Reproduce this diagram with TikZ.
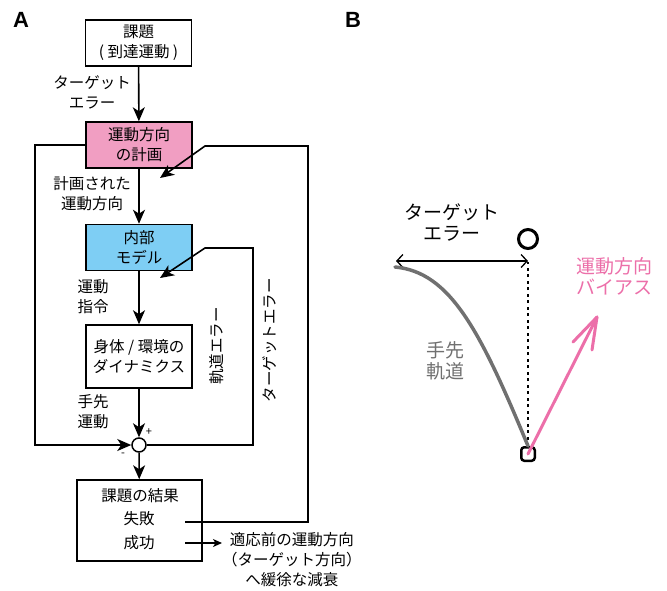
\documentclass[tikz,border=0pt]{standalone}
\usepackage{fontspec}
\setmainfont{Noto Sans CJK JP}
\newfontfamily\labfont{Liberation Sans}
\usetikzlibrary{arrows.meta,calc}
\definecolor{boxpink}{HTML}{F19EC2}
\definecolor{boxblue}{HTML}{7ECEF4}
\definecolor{biaspink}{HTML}{EC6FA9}
\definecolor{trajgray}{HTML}{707070}
\begin{document}
\begin{tikzpicture}[x=1pt,y=-1pt,
  every node/.style={font=\fontsize{15.5pt}{20pt}\selectfont},
  big/.style={font=\fontsize{19pt}{21pt}\selectfont},
  box/.style={draw, line width=1.5pt, minimum width=106pt, minimum height=46pt, align=center, inner sep=0pt},
  lbl/.style={align=center, inner sep=0pt},
  arr/.style={line width=1.6pt, -{Stealth[length=14pt,width=12pt,inset=4pt]}},
  panel/.style={font=\labfont\bfseries\fontsize{22pt}{22pt}\selectfont, inner sep=0pt}
]
\useasboundingbox (0,0) rectangle (667,590);

% panel labels
\node[panel] (pa) at (21,20) {A};
\node[panel] (pb) at (353,20) {B};

% boxes
\node[box] (task) at (138.5,43) {課題\\( 到達運動 )};
\node[box, fill=boxpink] (plan) at (139,145) {運動方向\\の計画};
\node[box, fill=boxblue] (model) at (139,247.5) {内部\\モデル};
\node[box, minimum height=63pt] (body) at (139,356.5) {身体 / 環境の\\ダイナミクス};
\node[circle, draw, line width=1.5pt, fill=white, minimum size=14pt, inner sep=0pt] (sum) at (139,445) {};
\node[box, minimum width=125pt, minimum height=81pt] (result) at (139.5,520.5) {};
\node[lbl] (rtitle) at (140,496) {課題の結果};
\node[lbl] (fail) at (139,519) {失敗};
\node[lbl] (succ) at (139,543) {成功};

% side labels
\node[lbl] (l1) at (92,92) {ターゲット\\エラー};
\node[lbl] (l2) at (92,194) {計画された\\運動方向};
\node[lbl, align=left] (l3) at (93,297) {運動\\指令};
\node[lbl, align=left] (l4) at (93,412) {手先\\運動};
\node[lbl, rotate=90] (l5) at (217,346) {軌道エラー};
\node[lbl, rotate=90] (l6) at (270,340) {ターゲットエラー};
\node[lbl, font=\fontsize{11pt}{11pt}\selectfont] (plus) at (149,432) {+};
\node[lbl, font=\fontsize{11pt}{11pt}\selectfont] (minus) at (123,455) {-};
\node[lbl, anchor=west] (decay) at (222,560) {適応前の運動方向\\（ターゲット方向）\\へ緩徐な減衰};

% main chain
\draw[arr] (task) -- (plan);
\draw[arr] (plan) -- (model);
\draw[arr] (model) -- (body);
\draw[arr] (body) -- (sum);
\draw[arr] (sum) -- (result);

% left loop
\coordinate (lx) at (35,145);
\draw[arr] (plan.west) -- (lx) |- (sum);

% inner right loop (trajectory error)
\coordinate (mtip) at (160,278);
\draw[arr] (sum.east) -- (253,445) |- (205,248) -- (mtip);

% outer right loop (target error)
\coordinate (failout) at (185,522);
\coordinate (ptip) at (160,178);
\draw[arr] (failout) -- (308,522) |- (205,146) -- (ptip);

% success arrow
\coordinate (succout) at (185,543);
\draw[line width=1.3pt, -{Stealth[length=9pt,width=8pt,inset=2.5pt]}] (succout) -- (succout -| decay.west);

% ---------- panel B ----------
\node[lbl, big] (terr) at (452,222) {ターゲット\\エラー};
\node[circle, draw, line width=3pt, minimum size=19pt, inner sep=0pt] (tgt) at (528,239) {};
\node[draw, line width=2.5pt, rounded corners=3pt, minimum size=13.5pt, inner sep=0pt] (start) at (528,454) {};
\coordinate (dtop) at (528,262);
\coordinate (eleft) at (396,261);
\draw[line width=1.6pt, dash pattern=on 3pt off 3.5pt] (start.north) -- (dtop);
\draw[line width=1.3pt, {Straight Barb[length=6pt,width=13pt]}-{Straight Barb[length=6pt,width=13pt]}] (eleft) -- (dtop |- eleft);
\coordinate (cstart) at (395,267);
\draw[trajgray, line width=3.5pt, line cap=round] (cstart) .. controls (450,272) and (480,330) .. (start.north);
\node[lbl, big, text=trajgray] (traj) at (445,361) {手先\\軌道};
\coordinate (btip) at (597,317);
\draw[biaspink, line width=3pt, line cap=round, line join=round] (start.center) -- (btip);
\draw[biaspink, line width=3pt, line cap=round, line join=round] (573,342) -- (btip) -- (592,350);
\node[lbl, big, text=biaspink] (bias) at (614,276) {運動方向\\バイアス};
\end{tikzpicture}
\end{document}
